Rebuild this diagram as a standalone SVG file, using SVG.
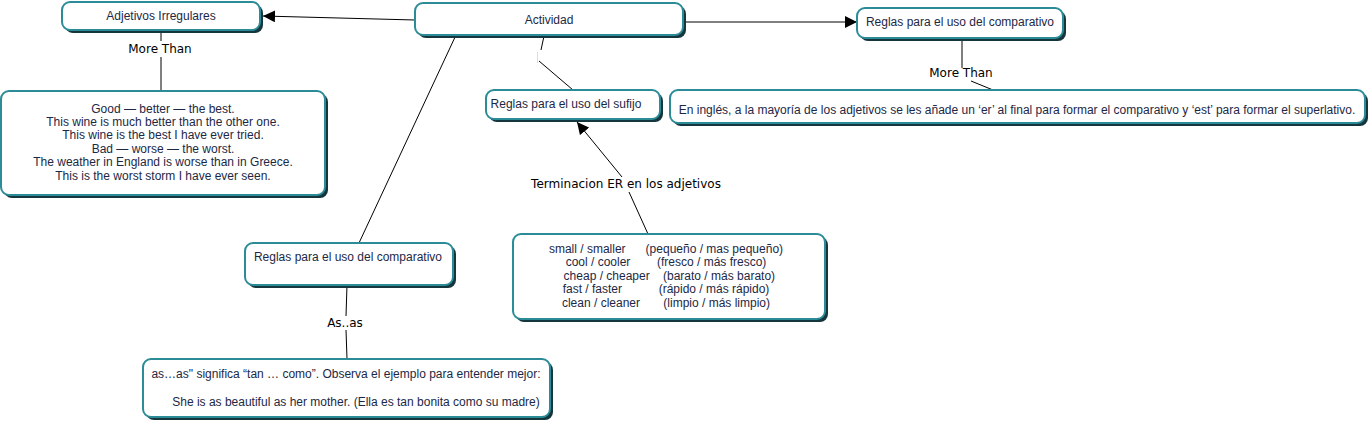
<svg xmlns="http://www.w3.org/2000/svg" width="1372" height="422" viewBox="0 0 1372 422">
<style>
.sh{fill:#14363c;}
.bx{fill:#ffffff;stroke:#2b8c98;stroke-width:2;}
.t{font-family:"Liberation Sans",Arial,sans-serif;font-size:12px;fill:#1c2845;text-anchor:middle;}
.lb{font-family:"DejaVu Sans",Verdana,sans-serif;font-size:12px;fill:#000;text-anchor:middle;}
.ln{stroke:#000;stroke-width:1;fill:none;}
</style>
<defs>
<marker id="ah" viewBox="0 0 10 10" refX="10" refY="5" markerWidth="12" markerHeight="12" markerUnits="userSpaceOnUse" orient="auto">
<path d="M0,0 L10,5 L0,10 z" fill="#000"/>
</marker>
</defs>
<rect width="1372" height="422" fill="#fff"/>
<g id="connectors">
<line class="ln" x1="415" y1="20" x2="263" y2="16" marker-end="url(#ah)"/>
<line class="ln" x1="683" y1="22" x2="857" y2="22" marker-end="url(#ah)"/>
<line class="ln" x1="161" y1="30" x2="161" y2="41"/>
<text class="lb" x="160" y="53">More Than</text>
<line class="ln" x1="161" y1="57" x2="161" y2="91"/>
<line class="ln" x1="962" y1="38" x2="962" y2="68"/>
<text class="lb" x="961" y="77">More Than</text>
<line class="ln" x1="971" y1="81" x2="993" y2="90"/>
<line class="ln" x1="544" y1="36" x2="541" y2="50"/>
<line x1="537.5" y1="52" x2="537.5" y2="63" stroke="#ddd" stroke-width="1"/>
<line class="ln" x1="539" y1="61" x2="573" y2="90"/>
<line class="ln" x1="456" y1="35" x2="359" y2="243"/>
<line class="ln" x1="347" y1="285" x2="346" y2="316"/>
<text class="lb" x="345" y="327">As..as</text>
<line class="ln" x1="346" y1="330" x2="347" y2="359"/>
<line class="ln" x1="648" y1="234" x2="629" y2="192"/>
<text class="lb" x="626" y="188">Terminacion ER en los adjetivos</text>
<line class="ln" x1="622" y1="177" x2="577" y2="122" marker-end="url(#ah)"/>
</g>
<g id="n-adjetivos">
<rect class="sh" x="65" y="5" width="198" height="28" rx="8"/>
<rect class="bx" x="62" y="2" width="198" height="28" rx="8"/>
<text class="t" x="161" y="20">Adjetivos Irregulares</text>
</g>
<g id="n-actividad">
<rect class="sh" x="418" y="6" width="268" height="32" rx="8"/>
<rect class="bx" x="415" y="3" width="268" height="32" rx="8"/>
<text class="t" x="549" y="24">Actividad</text>
</g>
<g id="n-comparativo-top">
<rect class="sh" x="860" y="11" width="206" height="30" rx="8"/>
<rect class="bx" x="857" y="8" width="206" height="30" rx="8"/>
<text class="t" x="960" y="26">Reglas para el uso del comparativo</text>
</g>
<g id="n-ingles">
<rect class="sh" x="673" y="93" width="695" height="33" rx="8"/>
<rect class="bx" x="670" y="90" width="695" height="33" rx="8"/>
<text class="t" x="1017" y="114">En inglés, a la mayoría de los adjetivos se les añade un ‘er’ al final para formar el comparativo y ‘est’ para formar el superlativo.</text>
</g>
<g id="n-good">
<rect class="sh" x="4" y="94" width="324" height="104" rx="8"/>
<rect class="bx" x="1" y="91" width="324" height="104" rx="8"/>
<text class="t" x="163" y="113">Good — better — the best.</text>
<text class="t" x="163" y="126">This wine is much better than the other one.</text>
<text class="t" x="163" y="139">This wine is the best I have ever tried.</text>
<text class="t" x="163" y="153">Bad — worse — the worst.</text>
<text class="t" x="163" y="166">The weather in England is worse than in Greece.</text>
<text class="t" x="163" y="180">This is the worst storm I have ever seen.</text>
</g>
<g id="n-sufijo">
<rect class="sh" x="489" y="93" width="174" height="29" rx="8"/>
<rect class="bx" x="486" y="90" width="174" height="29" rx="8"/>
<text class="t" x="566" y="108">Reglas para el uso del sufijo</text>
</g>
<g id="n-small">
<rect class="sh" x="516" y="237" width="312" height="85" rx="8"/>
<rect class="bx" x="513" y="234" width="312" height="85" rx="8"/>
<text class="t" x="666" y="253" xml:space="preserve">small / smaller      (pequeño / mas pequeño)</text>
<text class="t" x="666" y="266" xml:space="preserve">cool / cooler        (fresco / más fresco)</text>
<text class="t" x="666" y="280" xml:space="preserve">  cheap / cheaper    (barato / más barato)</text>
<text class="t" x="666" y="293" xml:space="preserve">fast / faster           (rápido / más rápido)</text>
<text class="t" x="666" y="307" xml:space="preserve">clean / cleaner       (limpio / más limpio)</text>
</g>
<g id="n-comparativo-bottom">
<rect class="sh" x="248" y="246" width="208" height="42" rx="8"/>
<rect class="bx" x="245" y="243" width="208" height="42" rx="8"/>
<text class="t" x="348" y="261">Reglas para el uso del comparativo</text>
</g>
<g id="n-asas">
<rect class="sh" x="146" y="362" width="407" height="58" rx="8"/>
<rect class="bx" x="143" y="359" width="407" height="58" rx="8"/>
<text class="t" x="346" y="378">as…as" significa “tan … como”. Observa el ejemplo para entender mejor:</text>
<text class="t" x="356" y="406">She is as beautiful as her mother. (Ella es tan bonita como su madre)</text>
</g>
</svg>
